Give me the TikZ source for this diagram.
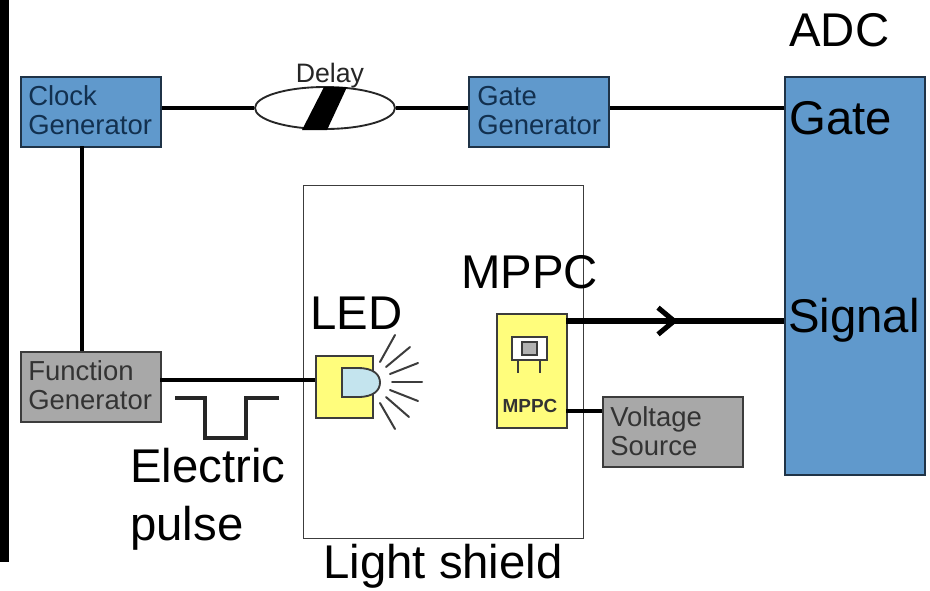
\documentclass[tikz,border=0pt]{standalone}
\usepackage{fontspec}
\setmainfont{Liberation Sans}
\usetikzlibrary{arrows.meta,shapes.geometric}
\definecolor{bluebox}{HTML}{6099CC}
\definecolor{bluetext}{HTML}{12304F}
\definecolor{blueedge}{HTML}{1F3347}
\definecolor{graybox}{HTML}{A8A8A8}
\definecolor{yellowbox}{HTML}{FFFD7C}
\definecolor{edgegray}{HTML}{3C3C3C}
\definecolor{lens}{HTML}{C4E4EE}
\newcommand{\bigtxt}{\fontsize{35.5}{42}\selectfont}
\newcommand{\smalltxt}{\fontsize{20.6}{21.5}\selectfont}
\tikzset{
  x=0.75pt,y=-0.75pt,
  box/.style={line width=1.5pt,minimum width=105pt,minimum height=52.5pt,inner sep=0pt,anchor=north west},
  bluefill/.style={box,draw=blueedge,fill=bluebox},
  grayfill/.style={box,draw=edgegray,fill=graybox},
  boxtext/.style={anchor=base west,inner sep=0pt,align=left,font=\smalltxt},
  yel/.style={draw=edgegray,line width=1.6pt,fill=yellowbox,inner sep=0pt,anchor=north west},
  wire/.style={line width=3.5pt,black},
  sigwire/.style={line width=4.3pt,black},
  ray/.style={line width=1.5pt,edgegray,line cap=round},
  label/.style={anchor=base west,inner sep=0pt,font=\bigtxt},
}
\begin{document}
\begin{tikzpicture}
\useasboundingbox (0,0) rectangle (930,590);
\fill[white] (0,0) rectangle (930,590);
\fill[black] (0,0) rectangle (9,562);
% shield
\node[draw=edgegray,line width=1.1pt,minimum width=210pt,minimum height=264.75pt,inner sep=0pt,anchor=north west] (shield) at (303,185) {};
% boxes
\node[bluefill] (clock) at (20,76) {};
\node[bluefill] (gategen) at (468,76) {};
\node[grayfill] (func) at (20,351) {};
\node[grayfill] (volt) at (602,396) {};
\node[boxtext,text=bluetext] (clocktext) at (28,134) {Clock\\Generator};
\node[boxtext,text=bluetext] (gatetext) at (477,134) {Gate\\Generator};
\node[boxtext,text=black!80] (functext) at (28,409) {Function\\Generator};
\node[boxtext,text=black!80] (volttext) at (610,455) {Voltage\\Source};
\node[draw=blueedge,line width=1.2pt,fill=bluebox,minimum width=105pt,minimum height=298.5pt,inner sep=0pt,anchor=north west] (adc) at (784,76) {};
\node[yel,minimum width=42.75pt,minimum height=46.5pt] (led) at (315,355) {};
\node[yel,minimum width=52.5pt,minimum height=85.5pt] (mppc) at (496,313) {};
% delay
\node[ellipse,draw=black!85,line width=1.4pt,fill=white,minimum width=105pt,minimum height=31.5pt,inner sep=0pt] (delay) at (325,108) {};
\fill[black] (324,87) -- (347,87) -- (327,130) -- (302,130) -- cycle;
\node[anchor=base,inner sep=0pt,font=\fontsize{20}{24}\selectfont,text=black!85] (delaylabel) at (330,82) {Delay};
% wires
\coordinate (gatein) at (784,108);
\coordinate (sigout) at (566,321);
\coordinate (sigmid) at (678,321);
\coordinate (sigin) at (784,321);
\coordinate (funcout) at (160,380);
\coordinate (ledin) at (315,380);
\coordinate (mppcv) at (566,411);
\coordinate (voltin) at (602,411);
\coordinate (clockdown) at (82,146);
\coordinate (funcup) at (82,351);
\draw[wire] (clock.east |- delay.center) -- (delay.west);
\draw[wire] (delay.east) -- (gategen.west |- delay.center);
\draw[wire] (gategen.east |- delay.center) -- (gatein);
\draw[wire] (clockdown) -- (funcup);
\draw[wire] (funcout) -- (ledin);
\draw[wire] (mppcv) -- (voltin);
\draw[sigwire] (sigout) -- (sigin);
\draw[sigwire,-{Straight Barb[length=12pt,width=20pt,line width=3.8pt]}] (sigout) -- (sigmid);
% pulse
\draw[line width=2.6pt,black!85] (175,398) -- (205,398) -- (205,438) -- (246,438) -- (246,398) -- (279,398);
% LED lens and rays
\draw[line width=1.4pt,edgegray,fill=lens] (342,368) -- (358,368) .. controls (374,368) and (380,375) .. (380,382.5) .. controls (380,390) and (374,397) .. (358,397) -- (342,397) -- cycle;
\draw[ray] (380,362) -- (395,335);
\draw[ray] (386,367) -- (410,347);
\draw[ray] (390,374) -- (418,363);
\draw[ray] (392,382) -- (422,382);
\draw[ray] (390,390) -- (418,401);
\draw[ray] (386,397) -- (409,417);
\draw[ray] (380,403) -- (395,429);
% MPPC icon
\draw[line width=1.2pt,edgegray,fill=white] (512,337) rectangle (547,360);
\draw[line width=1.2pt,edgegray,fill=black!30] (522,342) rectangle (537,355);
\draw[line width=1.2pt,edgegray] (518,360) -- (518,373);
\draw[line width=1.2pt,edgegray] (540,360) -- (540,373);
\node[anchor=base,inner sep=0pt,font=\fontsize{14.2}{16}\selectfont\bfseries,text=black!80] (mppcsmall) at (530,412) {MPPC};
% big labels
\node[label] (adclabel) at (789,46.5) {ADC};
\node[label] (gatelabel) at (789,134) {Gate};
\node[label] (signallabel) at (788,332) {Signal};
\node[label] (mppclabel) at (461,288) {MPPC};
\node[label] (ledlabel) at (310,329) {LED};
\node[label] (elabel) at (130,482) {Electric};
\node[label] (plabel) at (130,540) {pulse};
\node[label] (slabel) at (323,578) {Light shield};
\end{tikzpicture}
\end{document}
